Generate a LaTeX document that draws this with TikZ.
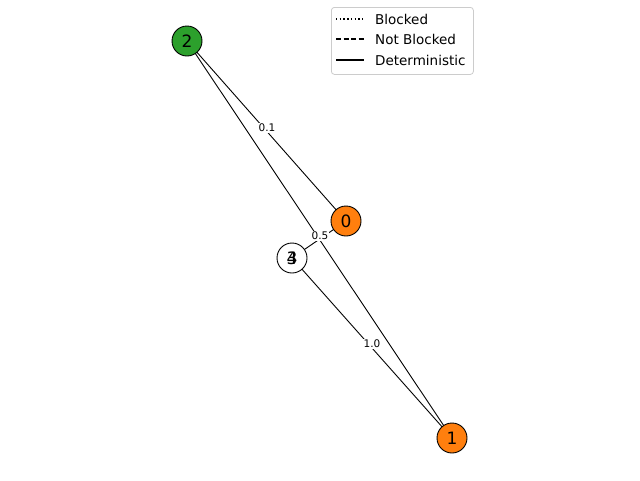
\documentclass[tikz,border=0pt]{standalone}
\usepackage{fontspec}
\setmainfont{DejaVu Sans}
\definecolor{mplgreen}{HTML}{2CA02C}
\definecolor{mplorange}{HTML}{FF7F0E}
\pgfdeclarelayer{edges}
\pgfsetlayers{edges,main}
\begin{document}
\begin{tikzpicture}[x=1pt,y=-1pt,
  vert/.style={circle,draw=black,line width=0.9pt,minimum size=30pt,inner sep=0pt,font=\fontsize{17}{17}\selectfont},
  edge/.style={draw=black,line width=0.9pt},
  elabel/.style={fill=white,inner sep=1pt,font=\fontsize{10.5}{10.5}\selectfont},
  legtext/.style={anchor=west,inner sep=0pt,font=\fontsize{13.5}{13.5}\selectfont}]
\useasboundingbox (0,0) rectangle (640,480);
% vertices
\node[vert,fill=mplgreen] (n2) at (187,41) {2};
\node[vert,fill=mplorange] (n0) at (346,221) {0};
\node[vert,fill=white] (n3) at (292,258) {3};
\node[vert,fill=none,draw=none] (n4) at (292,258) {4};
\node[vert,fill=mplorange] (n1) at (452,438) {1};
% edges, drawn beneath the vertices
\begin{pgfonlayer}{edges}
\draw[edge] (n2.center) -- (n0.center);
\draw[edge] (n2.center) -- (n1.center);
\draw[edge] (n0.center) -- (n3.center);
\draw[edge] (n3.center) -- (n1.center);
\end{pgfonlayer}
% edge labels
\node[elabel] (l20) at (267,128) {0.1};
\node[elabel] (l03) at (320,236) {0.5};
\node[elabel] (l31) at (372,344) {1.0};
% legend
\node[draw=black!20,line width=0.8pt,rounded corners=3pt,minimum width=142pt,minimum height=67pt,anchor=north west,fill=white,fill opacity=0.8] (leg) at (331,7) {};
\coordinate (a1) at (336,19); \coordinate (b1) at (364,19);
\coordinate (a2) at (336,39); \coordinate (b2) at (364,39);
\coordinate (a3) at (336,60); \coordinate (b3) at (364,60);
\draw[line width=1.4pt,dash pattern=on 1.4pt off 2.3pt] (a1) -- (b1);
\draw[line width=1.4pt,dash pattern=on 5.2pt off 2.3pt] (a2) -- (b2);
\draw[line width=1.4pt] (a3) -- (b3);
\node[legtext] (t1) at (375,19) {Blocked};
\node[legtext] (t2) at (375,39) {Not Blocked};
\node[legtext] (t3) at (375,60) {Deterministic};
\end{tikzpicture}
\end{document}
